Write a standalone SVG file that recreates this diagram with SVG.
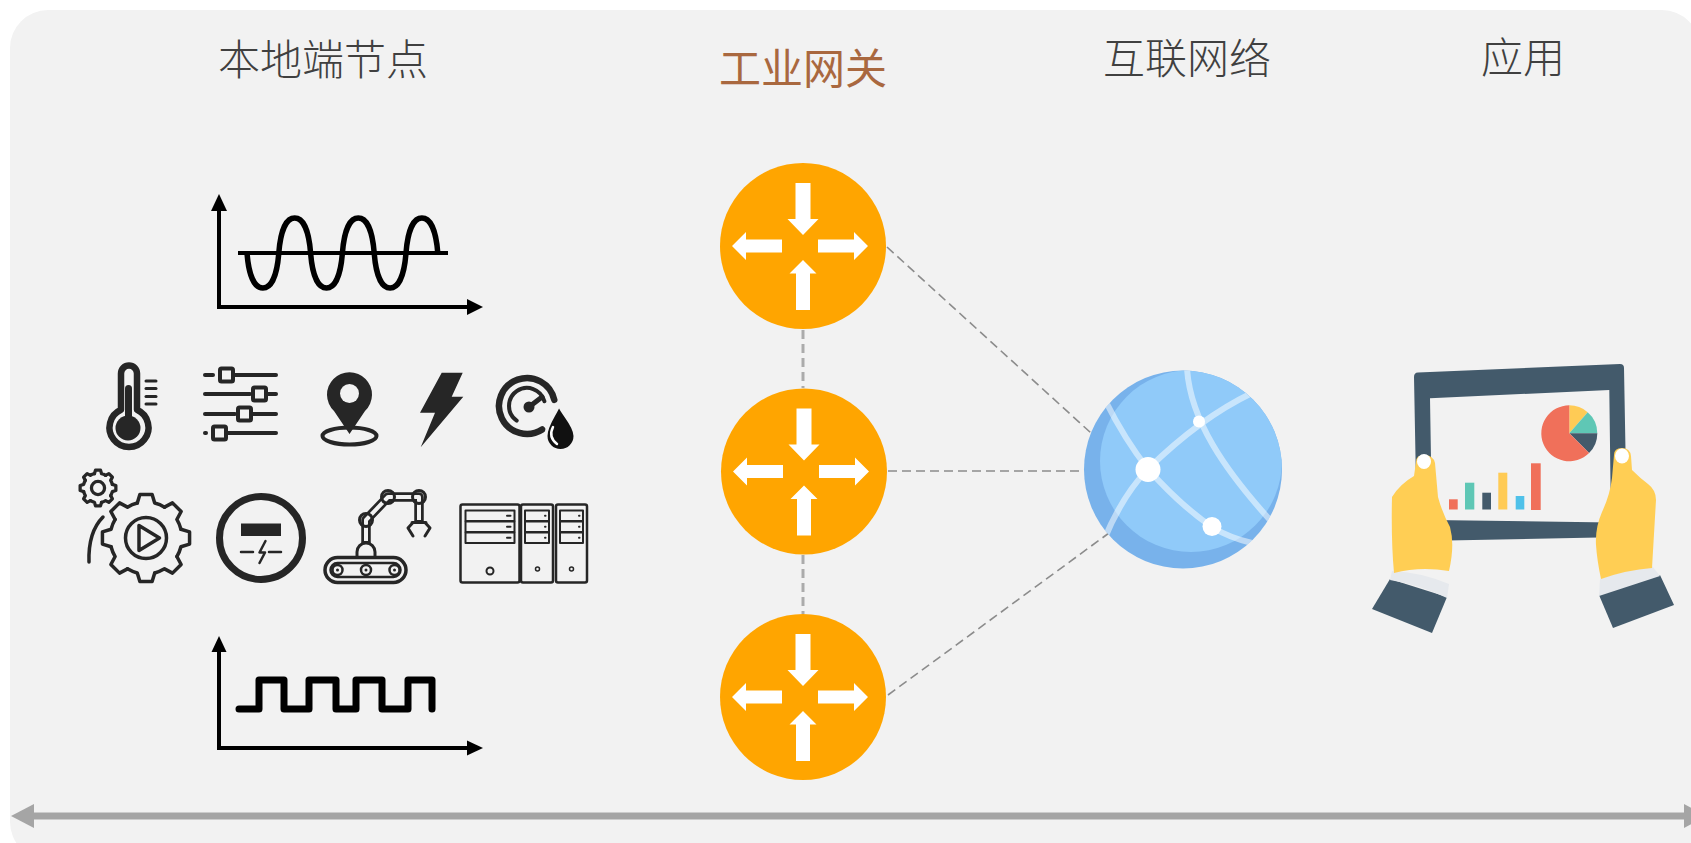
<svg xmlns="http://www.w3.org/2000/svg" xmlns:xlink="http://www.w3.org/1999/xlink" width="1691" height="843" viewBox="0 0 1691 843">
  <style>
    .title { font-family: "Noto Sans CJK SC", "Noto Sans", sans-serif; font-size: 42px; font-weight: 300; fill: #404040; text-anchor: middle; }
    .title-hl { fill: #A9683F; font-weight: 400; }
    .ln { fill: none; stroke: #262626; stroke-linecap: round; stroke-linejoin: round; }
    .ink { fill: #262626; }
    .axis { fill: none; stroke: #000; stroke-width: 4; }
    .head { fill: #000; }
    .link-v { fill: none; stroke: #ABABAB; stroke-width: 3; stroke-dasharray: 9 5; }
    .link-d { fill: none; stroke: #8C8C8C; stroke-width: 1.6; stroke-dasharray: 9 5; }
    .arrow-w { fill: #fff; }
    .slate { fill: #435A6B; }
    .hand { fill: #FFCE54; }
    .cuff { fill: #E6E9ED; }
  </style>
  <defs>
    <!-- one gear tooth plus the root arc up to the next tooth -->
    <path id="tooth" d="M34.93,-8.71 L43.57,-6.12 L43.57,6.12 L34.93,8.71 A36,36 0 0 1 30.86,18.54"/>
    <!-- router symbol: orange disc with four white arrows -->
    <g id="router">
      <circle r="83" fill="#FFA500"/>
      <polygon class="arrow-w" points="-7.5,-63 7.5,-63 7.5,-27 15.5,-27 0,-11 -15.5,-27 -7.5,-27"/>
      <polygon class="arrow-w" points="0,14 13.5,27.5 7,27.5 7,64 -7,64 -7,27.5 -13.5,27.5"/>
      <polygon class="arrow-w" points="-71,0 -57,-14 -57,-6.5 -21,-6.5 -21,6.5 -57,6.5 -57,14"/>
      <polygon class="arrow-w" points="65,0 51,-14 51,-6.5 15,-6.5 15,6.5 51,6.5 51,14"/>
    </g>
    <clipPath id="globe-clip">
      <circle cx="1183" cy="469.5" r="99"/>
    </clipPath>
  </defs>

  <!-- panel -->
  <rect x="0" y="0" width="1691" height="843" fill="#FFFFFF"/>
  <rect x="10" y="10" width="1690" height="850" rx="38" fill="#F2F2F2"/>

  <!-- column headings -->
  <text class="title" x="323" y="75">本地端节点</text>
  <text class="title title-hl" x="803" y="84">工业网关</text>
  <text class="title" x="1187" y="74">互联网络</text>
  <text class="title" x="1523" y="73">应用</text>

  <!-- connectors -->
  <g id="connectors">
    <line class="link-v" x1="803" y1="330" x2="803" y2="388"/>
    <line class="link-v" x1="803" y1="555" x2="803" y2="614"/>
    <line class="link-d" x1="887" y1="247" x2="1091" y2="433"/>
    <line class="link-d" x1="888" y1="471" x2="1083" y2="471"/>
    <line class="link-d" x1="888" y1="695" x2="1109" y2="533"/>
    <!-- timeline arrow -->
    <line x1="30" y1="816" x2="1690" y2="816" stroke="#A5A5A5" stroke-width="7"/>
    <polygon points="11,816 34,804 34,828" fill="#A5A5A5"/>
    <polygon points="1707,816 1684,804 1684,828" fill="#A5A5A5"/>
  </g>

  <!-- local field nodes -->
  <g id="node-local">
    <!-- analog signal chart -->
    <g id="analog-signal">
      <line class="axis" x1="219" y1="208" x2="219" y2="307"/>
      <line class="axis" x1="217" y1="307" x2="469" y2="307"/>
      <polygon class="head" points="219,194 211,211 227,211"/>
      <polygon class="head" points="483,307 467,299 467,315"/>
      <line x1="238" y1="253" x2="448" y2="253" stroke="#000" stroke-width="4"/>
      <path fill="none" stroke="#000" stroke-width="5.5" d="M247,253
        c1.6,21 7,35 15.9,35 c8.9,0 14.3,-14 15.9,-35 c1.6,-21 7,-35 15.9,-35 c8.9,0 14.3,14 15.9,35
        c1.6,21 7,35 15.9,35 c8.9,0 14.3,-14 15.9,-35 c1.6,-21 7,-35 15.9,-35 c8.9,0 14.3,14 15.9,35
        c1.6,21 7,35 15.9,35 c8.9,0 14.3,-14 15.9,-35 c1.6,-21 7,-35 15.9,-35 c8.9,0 14.3,14 15.9,35"/>
    </g>

    <!-- digital signal chart -->
    <g id="digital-signal">
      <line class="axis" x1="219" y1="650" x2="219" y2="748" stroke-width="3.5"/>
      <line class="axis" x1="217" y1="748" x2="469" y2="748" stroke-width="3.5"/>
      <polygon class="head" points="219,636 211.5,652 226.5,652"/>
      <polygon class="head" points="483,748 467,740.5 467,755.5"/>
      <path fill="none" stroke="#000" stroke-width="7" stroke-linejoin="round" stroke-linecap="round"
        d="M239,709 H259 V680 H284 V709 H309 V680 H336 V709 H356 V680 H382 V709 H408 V680 H432 V709"/>
    </g>

    <!-- thermometer -->
    <g id="icon-thermometer">
      <path class="ln" stroke-width="6.5" d="M121,409.8 V373.5 A8,8 0 0 1 137,373.5 V409.8 A19.5,19.5 0 1 1 121,409.8 Z"/>
      <rect class="ink" x="125" y="385" width="7" height="34" rx="3.5"/>
      <circle class="ink" cx="128" cy="428" r="12.5"/>
      <g class="ln" stroke-width="3">
        <line x1="146" y1="381" x2="156" y2="381"/>
        <line x1="146" y1="388.5" x2="156" y2="388.5"/>
        <line x1="146" y1="396.5" x2="156" y2="396.5"/>
        <line x1="146" y1="404" x2="156" y2="404"/>
      </g>
    </g>

    <!-- sliders -->
    <g id="icon-sliders" class="ln" stroke-width="4">
      <line x1="205" y1="375" x2="213" y2="375"/>
      <rect x="220" y="368.5" width="13" height="13" rx="1.5"/>
      <line x1="235" y1="375" x2="276" y2="375"/>
      <line x1="205" y1="394" x2="250" y2="394"/>
      <rect x="253" y="387.5" width="13" height="13" rx="1.5"/>
      <line x1="268" y1="394" x2="276" y2="394"/>
      <line x1="205" y1="414" x2="235" y2="414"/>
      <rect x="238" y="407.5" width="13" height="13" rx="1.5"/>
      <line x1="253" y1="414" x2="276" y2="414"/>
      <line x1="205" y1="433" x2="206" y2="433"/>
      <rect x="213" y="426.5" width="13" height="13" rx="1.5"/>
      <line x1="228" y1="433" x2="276" y2="433"/>
    </g>

    <!-- location pin -->
    <g id="icon-pin">
      <ellipse class="ln" cx="349.5" cy="436" rx="27" ry="8.5" stroke-width="4"/>
      <path class="ink" d="M349.5,434 L334,411 A22.5,22.5 0 1 1 365,411 Z"/>
      <circle cx="349.5" cy="393.5" r="9.5" fill="#F2F2F2"/>
    </g>

    <!-- lightning bolt -->
    <polygon id="icon-bolt" class="ink" points="441.7,372.7 462.7,372.7 451.7,396.7 463.3,396.7 420.7,447.3 435,412.7 420,412.7"/>

    <!-- pressure gauge with drop -->
    <g id="icon-gauge">
      <path class="ln" stroke-width="6.5" stroke-linecap="butt" d="M554.3,399.9 A28,28 0 1 0 542.2,429.5"/>
      <path class="ln" stroke-width="4" d="M544.4,401.3 A18,18 0 1 0 516.7,420.7"/>
      <line class="ln" x1="529" y1="407" x2="542" y2="397" stroke-width="5"/>
      <circle class="ink" cx="529" cy="407" r="5.5"/>
      <path fill="#111" stroke="#F2F2F2" stroke-width="3" d="M559,405 C563,415 575,425 575,436 A14.5,14.5 0 0 1 546,436 C546,425 555,415 559,405 Z"/>
      <path fill="none" stroke="#fff" stroke-width="2.5" stroke-linecap="round" d="M553,427 Q548,437 557,444"/>
    </g>

    <!-- process gear -->
    <g id="icon-gear">
      <g transform="translate(98 488) scale(0.41)" class="ln" stroke-width="8">
        <use href="#tooth"/>
        <use href="#tooth" transform="rotate(45)"/>
        <use href="#tooth" transform="rotate(90)"/>
        <use href="#tooth" transform="rotate(135)"/>
        <use href="#tooth" transform="rotate(180)"/>
        <use href="#tooth" transform="rotate(225)"/>
        <use href="#tooth" transform="rotate(270)"/>
        <use href="#tooth" transform="rotate(315)"/>
        <circle r="16"/>
      </g>
      <g transform="translate(146 538)" class="ln" stroke-width="3.5">
        <use href="#tooth"/>
        <use href="#tooth" transform="rotate(45)"/>
        <use href="#tooth" transform="rotate(90)"/>
        <use href="#tooth" transform="rotate(135)"/>
        <use href="#tooth" transform="rotate(180)"/>
        <use href="#tooth" transform="rotate(225)"/>
        <use href="#tooth" transform="rotate(270)"/>
        <use href="#tooth" transform="rotate(315)"/>
        <circle r="20.5"/>
        <path d="M-7,-12.5 L-7,12.5 L13.5,0 Z"/>
      </g>
      <path class="ln" stroke-width="3.5" d="M89,562 Q88,532 103,517"/>
    </g>

    <!-- power supply -->
    <g id="icon-power">
      <circle class="ln" cx="261" cy="538" r="41.5" stroke-width="7"/>
      <rect class="ink" x="241" y="523.5" width="40" height="12.5"/>
      <g class="ln" stroke-width="2.5" stroke-linecap="butt">
        <line x1="241" y1="552" x2="253" y2="552"/>
        <line x1="269" y1="552" x2="281" y2="552"/>
        <polyline points="265.5,541 259.5,552.5 265,552.5 259.5,563"/>
      </g>
    </g>

    <!-- robot arm on conveyor -->
    <g id="icon-robot">
      <rect class="ln" x="325" y="557.5" width="81" height="25" rx="12.5" stroke-width="3.5"/>
      <rect class="ln" x="330.5" y="563" width="70" height="14" rx="7" stroke-width="2.5"/>
      <g class="ln" stroke-width="2.5">
        <circle cx="337.5" cy="570" r="5"/>
        <circle cx="366" cy="570" r="5"/>
        <circle cx="394.5" cy="570" r="5"/>
      </g>
      <circle class="ink" cx="337.5" cy="570" r="1.5"/>
      <circle class="ink" cx="366" cy="570" r="1.5"/>
      <circle class="ink" cx="394.5" cy="570" r="1.5"/>
      <path class="ln" stroke-width="3" d="M357,557 V552 A9,9 0 0 1 375,552 V557"/>
      <!-- arm links drawn as outlined bars -->
      <g fill="none" stroke-linecap="butt" stroke-linejoin="round">
        <path stroke="#262626" stroke-width="9.5" d="M366,544 V520 L388,497 H419 V522"/>
        <path stroke="#F2F2F2" stroke-width="4" d="M366,541 V520 L388,497 H419 V520"/>
      </g>
      <g class="ln" stroke-width="3" fill="#F2F2F2">
        <circle cx="366" cy="520" r="6.5"/>
        <circle cx="388" cy="497" r="6.5"/>
        <circle cx="419" cy="497" r="6.5"/>
      </g>
      <path class="ln" stroke-width="3" d="M412,522.5 H426 M413,522.5 L408,528 L413,536 M425,522.5 L430,528 L425,536"/>
    </g>

    <!-- server cabinets -->
    <g id="icon-servers" class="ln" stroke-width="2.5">
      <rect x="460.5" y="504.5" width="59" height="78" rx="2"/>
      <rect x="465.5" y="510.5" width="49" height="10.5" stroke-width="2"/>
      <rect x="465.5" y="521.5" width="49" height="10.5" stroke-width="2"/>
      <rect x="465.5" y="532.5" width="49" height="10.5" stroke-width="2"/>
      <line x1="507" y1="515.75" x2="510.5" y2="515.75" stroke-width="2"/>
      <line x1="507" y1="526.75" x2="510.5" y2="526.75" stroke-width="2"/>
      <line x1="507" y1="537.75" x2="510.5" y2="537.75" stroke-width="2"/>
      <circle cx="490" cy="571" r="3.5" stroke-width="2"/>

      <rect x="521" y="504.5" width="32" height="78" rx="2"/>
      <rect x="525" y="510.5" width="24" height="10.5" stroke-width="2"/>
      <rect x="525" y="521.5" width="24" height="10.5" stroke-width="2"/>
      <rect x="525" y="532.5" width="24" height="10.5" stroke-width="2"/>
      <line x1="545" y1="515.75" x2="545.5" y2="515.75" stroke-width="2"/>
      <line x1="545" y1="526.75" x2="545.5" y2="526.75" stroke-width="2"/>
      <line x1="545" y1="537.75" x2="545.5" y2="537.75" stroke-width="2"/>
      <circle cx="537.5" cy="569" r="2" stroke-width="1.5"/>

      <rect x="556" y="504.5" width="31" height="78" rx="2"/>
      <rect x="560" y="510.5" width="23" height="10.5" stroke-width="2"/>
      <rect x="560" y="521.5" width="23" height="10.5" stroke-width="2"/>
      <rect x="560" y="532.5" width="23" height="10.5" stroke-width="2"/>
      <line x1="579" y1="515.75" x2="579.5" y2="515.75" stroke-width="2"/>
      <line x1="579" y1="526.75" x2="579.5" y2="526.75" stroke-width="2"/>
      <line x1="579" y1="537.75" x2="579.5" y2="537.75" stroke-width="2"/>
      <circle cx="571.5" cy="569" r="2" stroke-width="1.5"/>
    </g>
  </g>

  <!-- industrial gateways -->
  <g id="node-gateway-1"><use href="#router" transform="translate(803 246)"/></g>
  <g id="node-gateway-2"><use href="#router" transform="translate(804 471.5)"/></g>
  <g id="node-gateway-3"><use href="#router" transform="translate(803 697)"/></g>

  <!-- internet globe -->
  <g id="node-internet">
    <circle cx="1183" cy="469.5" r="99" fill="#78B2EB"/>
    <g clip-path="url(#globe-clip)">
      <circle cx="1191" cy="461" r="91" fill="#90CAF9"/>
      <g fill="none" stroke="#FFFFFF" stroke-opacity="0.5" stroke-width="6">
        <path d="M1187,368 C1190,420 1225,470 1270,520"/>
        <path d="M1252,393 Q1200,418 1148,469 Q1122,496 1104,540"/>
        <path d="M1105,400 Q1125,440 1148,469 Q1180,505 1212,527 Q1230,538 1252,543"/>
      </g>
    </g>
    <circle cx="1148" cy="469.5" r="12.5" fill="#fff"/>
    <circle cx="1199" cy="421.5" r="6" fill="#fff"/>
    <circle cx="1212" cy="526.5" r="9.5" fill="#fff"/>
  </g>

  <!-- application: tablet with charts -->
  <g id="node-app">
    <path class="slate" fill-rule="evenodd" d="M1418,372.5 L1620,364 Q1624,364 1624,368 L1627,533 Q1627,537 1623,537 L1421,541 Q1417,541 1417,537 L1414,377 Q1414,372.7 1418,372.5 Z
      M1430,398.3 L1609.3,390 L1611,522.5 L1432,520 Z"/>
    <!-- pie chart -->
    <path fill="#FFCB55" d="M1569.3,433.3 L1569.3,405.3 A28,28 0 0 1 1587.7,412.2 Z"/>
    <path fill="#5FC7B5" d="M1569.3,433.3 L1587.7,412.2 A28,28 0 0 1 1597.3,433.3 Z"/>
    <path class="slate" d="M1569.3,433.3 L1597.3,433.3 A28,28 0 0 1 1589.1,453.1 Z"/>
    <path fill="#F0705A" d="M1569.3,433.3 L1589.1,453.1 A28,28 0 1 1 1569.3,405.3 Z"/>
    <!-- bar chart -->
    <rect x="1449" y="499.3" width="8.7" height="10.2" fill="#F0705A"/>
    <rect x="1465" y="482.7" width="9.3" height="26.8" fill="#5FC7B5"/>
    <rect x="1482.3" y="492.7" width="8.7" height="16.8" class="slate"/>
    <rect x="1498.3" y="472.7" width="9" height="36.8" fill="#FFCB55"/>
    <rect x="1515.7" y="496" width="8.6" height="13.5" fill="#4FC1E9"/>
    <rect x="1531" y="463.3" width="9.7" height="46.7" fill="#F0705A"/>
    <!-- left hand -->
    <polygon class="slate" points="1390,579 1447,597 1432,633 1372,609"/>
    <path class="cuff" d="M1392,571 Q1420,572 1449,584 L1447,598 Q1420,585 1390,580 Z"/>
    <path class="hand" d="M1416,462 Q1416,455 1424,455 Q1433,455 1435,463 L1438,497 Q1442,512 1450,527 Q1455,545 1449,571 Q1420,566 1394,573 Q1391,540 1392,497 Q1400,484 1414,476 Z"/>
    <ellipse cx="1424" cy="461.5" rx="7" ry="7.5" fill="#fff"/>
    <!-- right hand -->
    <polygon class="slate" points="1599,595 1660,575 1674,605 1613,628"/>
    <path class="cuff" d="M1600,579 Q1626,570 1652,566 L1660,576 L1599,596 Z"/>
    <path class="hand" d="M1614,455 Q1614,448 1622,448 Q1630,448 1631,456 L1632,470 Q1640,478 1648,484 Q1656,490 1656,500 L1652,568 Q1626,570 1601,579 Q1597,560 1596,545 Q1595,528 1602,512 Q1610,495 1612,478 Z"/>
    <ellipse cx="1622" cy="456" rx="7" ry="7.5" fill="#fff"/>
  </g>
</svg>
